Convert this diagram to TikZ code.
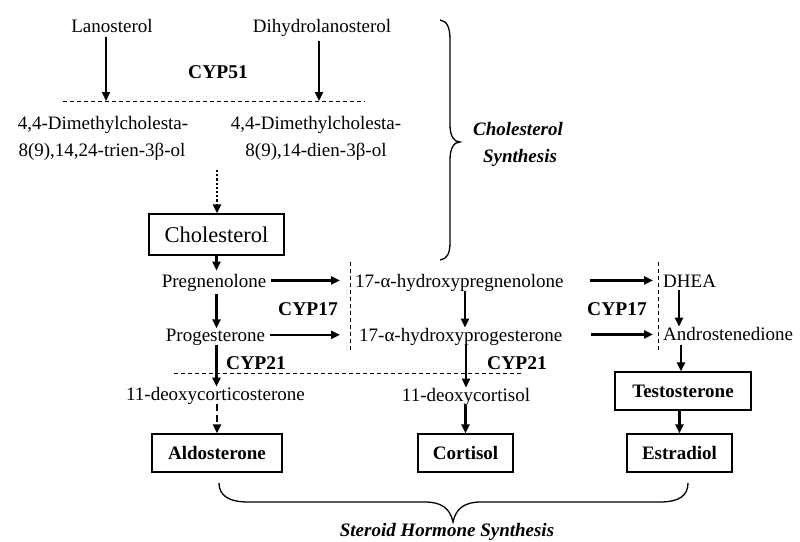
\documentclass[tikz,border=0pt]{standalone}
\usepackage{fontspec}
\setmainfont{Liberation Serif}
\usetikzlibrary{arrows.meta}
\begin{document}
\begin{tikzpicture}[x=1pt,y=-1pt,
  txt/.style={inner sep=0pt, font=\fontsize{19}{22}\selectfont},
  lbl/.style={inner sep=0pt, font=\fontsize{19.5}{22}\selectfont\bfseries},
  ital/.style={inner sep=0pt, font=\fontsize{19}{22}\selectfont\bfseries\itshape},
  box/.style={draw, line width=1.3pt, inner sep=0pt, font=\fontsize{19}{22}\selectfont\bfseries},
  arr/.style={line width=2.2pt, -{Triangle[length=9pt,width=8pt]}},
  thindash/.style={line width=1pt, dash pattern=on 4pt off 3pt},
  brace/.style={line width=1.3pt}
]
\useasboundingbox (0,0) rectangle (800,541);

% cholesterol synthesis part
\node[txt, anchor=base] (lano) at (112,32) {Lanosterol};
\node[txt, anchor=base] (dihy) at (322,32) {Dihydrolanosterol};
\node[lbl, anchor=base] (cyp51) at (218,78) {CYP51};
\node[txt, anchor=base] (dmA1) at (103,129) {4,4-Dimethylcholesta-};
\node[txt, anchor=base] (dmA2) at (102,156) {8(9),14,24-trien-3β-ol};
\node[txt, anchor=base] (dmB1) at (316,129) {4,4-Dimethylcholesta-};
\node[txt, anchor=base] (dmB2) at (316,156) {8(9),14-dien-3β-ol};
\node[draw, line width=1.3pt, inner sep=0pt, font=\fontsize{22.5}{24}\selectfont,
      minimum width=135, minimum height=41] (chol) at (216.5,234.5) {Cholesterol};

\coordinate (c51L) at (63,101);
\coordinate (c51R) at (365,101);
\draw[thindash] (c51L) -- (c51R);
\draw[arr, shorten <=5pt] ([xshift=-6pt]lano.south) -- ([xshift=-6pt]lano.south |- c51L);
\draw[arr, shorten <=5pt] ([xshift=-3pt]dihy.south) -- ([xshift=-3pt]dihy.south |- c51L);
\coordinate (dotS) at (217,170);
\draw[arr, dotted] (dotS) -- (dotS |- chol.north);

% steroid part
\node[txt, anchor=base] (preg) at (214,287) {Pregnenolone};
\node[txt, anchor=base] (prog) at (215.5,341) {Progesterone};
\node[lbl, anchor=base] (cyp17a) at (308,315) {CYP17};
\node[txt, anchor=base west] (hpreg) at (355,287) {17-α-hydroxypregnenolone};
\node[txt, anchor=base west] (hprog) at (359,341) {17-α-hydroxyprogesterone};
\node[lbl, anchor=base] (cyp17b) at (617,315) {CYP17};
\node[txt, anchor=base west] (dhea) at (663,287) {DHEA};
\node[txt, anchor=base west] (andro) at (663,340) {Androstenedione};
\node[lbl, anchor=base] (cyp21a) at (256,369) {CYP21};
\node[lbl, anchor=base] (cyp21b) at (517,369) {CYP21};
\node[txt, anchor=base] (dcs) at (215.5,400) {11-deoxycorticosterone};
\node[txt, anchor=base] (dcl) at (466,401) {11-deoxycortisol};
\node[box, minimum width=136, minimum height=38] (testo) at (683,391) {Testosterone};
\node[box, minimum width=130, minimum height=38] (aldo) at (217,453) {Aldosterone};
\node[box, minimum width=95, minimum height=38] (cort) at (465.5,453) {Cortisol};
\node[box, minimum width=105, minimum height=38] (estr) at (679.5,453) {Estradiol};

\node[ital, anchor=base] (chsyn1) at (518,135) {Cholesterol};
\node[ital, anchor=base] (chsyn2) at (520,162) {Synthesis};
\node[ital, anchor=base] (shs) at (447,536) {Steroid Hormone Synthesis};

% dashed separators
\coordinate (v17aT) at (350,262); \coordinate (v17aB) at (350,352);
\coordinate (v17bT) at (658,262); \coordinate (v17bB) at (658,352);
\coordinate (d21L) at (174,373);  \coordinate (d21R) at (522,373);
\draw[thindash] (v17aT) -- (v17aB);
\draw[thindash] (v17bT) -- (v17bB);
\draw[thindash] (d21L) -- (d21R);

% arrows
\draw[arr, shorten >=3pt] (chol.south) -- (chol.south |- preg.north);
\draw[arr, shorten <=3pt] (chol.south |- preg.south) -- (chol.south |- prog.north);
\draw[arr] ([xshift=5pt,yshift=2pt]preg.east) -- ([xshift=-15pt,yshift=2pt]preg.east -| hpreg.west);
\draw[arr] ([xshift=5pt,yshift=2pt]prog.east) -- ([xshift=-19pt,yshift=2pt]prog.east -| hprog.west);
\draw[arr] ([xshift=26pt,yshift=2pt]hpreg.east) -- ([xshift=-10pt,yshift=2pt]hpreg.east -| dhea.west);
\draw[arr] ([xshift=29pt,yshift=2pt]hprog.east) -- ([xshift=-10pt,yshift=2pt]hprog.east -| andro.west);
\draw[arr] ([xshift=110pt]hpreg.south west) -- ([xshift=110pt]hpreg.south west |- hprog.north);
\draw[arr, shorten <=3pt] ([xshift=16pt]dhea.south west) -- ([xshift=16pt]dhea.south west |- andro.north);
\draw[arr, shorten <=5pt] ([xshift=-2pt]testo.north |- andro.south) -- ([xshift=-2pt]testo.north);
\draw[arr] (chol.south |- prog.south) -- (chol.south |- dcs.north);
\draw[arr, dash pattern=on 7pt off 4pt] (aldo.north |- dcs.south) -- (aldo.north);
\draw[arr] (dcl.north |- hprog.south) -- (dcl.north);
\draw[arr] (cort.north |- dcl.south) -- (cort.north);
\draw[arr] (estr.north |- testo.south) -- (estr.north);

% braces
\coordinate (bR1) at (440,20);
\coordinate (bR2) at (440,260);
\coordinate (bRt) at (460,142);
\draw[brace] (bR1) .. controls (447,21) and (450,27) .. (450,40)
  -- (450,125) .. controls (450,136) and (454,142) .. (bRt)
  .. controls (454,142) and (450,148) .. (450,160)
  -- (450,242) .. controls (450,254) and (447,259) .. (bR2);
\coordinate (bB1) at (219,483);
\coordinate (bB2) at (688,483);
\coordinate (bBt) at (453,522);
\draw[brace] (bB1) .. controls (219,495) and (228,502) .. (248,502)
  -- (425,502) .. controls (441,502) and (450,508) .. (bBt)
  .. controls (456,508) and (465,502) .. (481,502)
  -- (660,502) .. controls (680,502) and (688,495) .. (bB2);
\end{tikzpicture}
\end{document}
